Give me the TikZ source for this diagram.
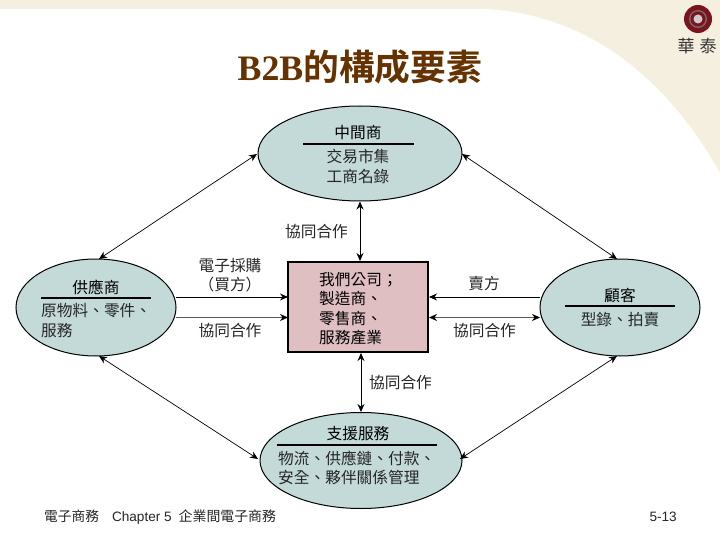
\documentclass[tikz,border=0pt]{standalone}
\usepackage{fontspec}
\setmainfont{Liberation Sans}
\newfontfamily\cjk{Noto Sans CJK TC}
\newfontfamily\titlelat{Liberation Serif}[BoldFont={Liberation Serif Bold}]
\newfontfamily\cjkb{Noto Sans CJK TC Bold}
\usetikzlibrary{arrows.meta,shapes.geometric}
\definecolor{cream}{HTML}{F5EFDF}
\definecolor{teal}{HTML}{C4DAD9}
\definecolor{rosy}{HTML}{E0BFC3}
\definecolor{brownish}{HTML}{663300}
\definecolor{maroon}{HTML}{7A1520}
\tikzset{
 lbl/.style={font=\cjk\fontsize{15.7}{19.5}\selectfont,text=black!85,inner sep=0pt,align=left},
 head/.style={font=\cjk\fontsize{15.7}{19}\selectfont,text=black,inner sep=0pt},
 rule/.style={line width=1.3pt,black},
 conn/.style={line width=0.7pt,-{Stealth[length=8pt,width=7pt]}},
 biconn/.style={line width=0.7pt,{Stealth[length=8pt,width=7pt]}-{Stealth[length=8pt,width=7pt]}},
 greyconn/.style={line width=0.6pt,draw=black!65},
 oval/.style={ellipse,draw,line width=1pt,fill=teal,inner sep=0pt},
 ring/.style={circle,inner sep=0pt},
}
\begin{document}
\begin{tikzpicture}[x=1pt,y=-1pt]
\useasboundingbox (0,0) rectangle (720,540);
\fill[cream] (0,0) rectangle (720,540);
\fill[white] (0,540) -- (0,9) -- (485,9) .. controls (585,14) and (665,75) .. (720,173) -- (720,540) -- cycle;
% logo
\node[ring,fill=maroon,minimum size=28pt] (logo) at (698,19) {};
\node[ring,fill=black!45!rosy,minimum size=18pt] (logoa) at (698,19) {};
\node[ring,fill=maroon,minimum size=15pt] (logob) at (698,19) {};
\node[ring,fill=black!20,minimum size=9pt] (logoc) at (698,19) {};
\node[font=\cjk\fontsize{17}{17}\selectfont,text=black!80,inner sep=0pt] (logot) at (697,46) {華\hspace{5pt}泰};
% title
\node[text=brownish,inner sep=0pt,anchor=center] (title) at (360,67) {\fontsize{35.8}{36}\selectfont{\titlelat\bfseries B2B}{\cjkb 的構成要素}};
% nodes
\node[oval,minimum width=204pt,minimum height=95pt] (top) at (360,153.5) {};
\node[oval,minimum width=160pt,minimum height=97pt] (left) at (96,307.5) {};
\node[oval,minimum width=160pt,minimum height=97pt] (right) at (620,307.5) {};
\node[oval,minimum width=202pt,minimum height=96pt] (bottom) at (361,460.5) {};
\node[rectangle,draw,line width=2pt,fill=rosy,minimum width=140pt,minimum height=90pt,inner sep=0pt] (box) at (358,307) {};
% top text
\node[head] (ta) at (358,133) {中間商};
\coordinate (tr1) at (303,144); \coordinate (tr2) at (414,144);
\draw[rule] (tr1) -- (tr2);
\node[lbl,align=center] (tb) at (358,166.5) {交易市集\\工商名錄};
% left text
\node[head] (la) at (96,287) {供應商};
\coordinate (lr1) at (41,298); \coordinate (lr2) at (151,298);
\draw[rule] (lr1) -- (lr2);
\node[lbl,anchor=west] (lb) at (41,320.5) {原物料、零件、\\服務};
% right text
\node[head] (ra) at (620,295) {顧客};
\coordinate (rr1) at (565,306); \coordinate (rr2) at (675,306);
\draw[rule] (rr1) -- (rr2);
\node[lbl] (rb) at (620,320) {型錄、拍賣};
% bottom text
\node[head] (ba) at (358,434) {支援服務};
\coordinate (br1) at (277,445); \coordinate (br2) at (437,445);
\draw[rule] (br1) -- (br2);
\node[lbl,anchor=west] (bb) at (278,468) {物流、供應鏈、付款、\\安全、夥伴關係管理};
% box text
\node[lbl,anchor=west,text=black] (bx) at (319,308.5) {我們公司；\\製造商、\\零售商、\\服務產業};
% edge labels
\node[lbl,align=center] (e1) at (230,275) {電子採購\\（買方）};
\node[lbl] (e2) at (230,331) {協同合作};
\node[lbl] (e3) at (316.5,232) {協同合作};
\node[lbl] (e4) at (400.5,383) {協同合作};
\node[lbl] (e5) at (484,284) {賣方};
\node[lbl] (e6) at (484.5,331) {協同合作};
% connectors
\draw[biconn,line width=0.9pt] (top.south) -- (top.south |- box.north);
\draw[biconn,line width=0.9pt] (box.south -| bottom.south) -- (bottom.north);
\coordinate (a1) at (176,297); \coordinate (a2) at (288,297);
\draw[conn,line width=0.8pt] (a1) -- (a2);
\coordinate (a3) at (176,317.5); \coordinate (a4) at (288,317.5);
\draw[conn,greyconn,-{Stealth[length=8pt,width=7pt,black]}] (a3) -- (a4);
\coordinate (a5) at (540,297); \coordinate (a6) at (429,297);
\draw[conn,line width=0.8pt] (a5) -- (a6);
\coordinate (a7) at (429,317.5); \coordinate (a8) at (540,317.5);
\draw[greyconn,{Stealth[length=8pt,width=7pt,black]}-{Stealth[length=8pt,width=7pt,black]}] (a7) -- (a8);
\coordinate (d1) at (257,154); \coordinate (d2) at (99,259);
\draw[biconn] (d1) -- (d2);
\coordinate (d3) at (462,154); \coordinate (d4) at (617,259);
\draw[biconn] (d3) -- (d4);
\coordinate (d5) at (99,356); \coordinate (d6) at (258,459);
\draw[biconn] (d5) -- (d6);
\coordinate (d7) at (617,356); \coordinate (d8) at (460,459);
\draw[biconn] (d7) -- (d8);
% footer
\node[font=\fontsize{13.6}{15}\selectfont,anchor=west,inner sep=0pt,text=black!85] (f1) at (44,517) {{\cjk\fontsize{13.7}{15}\selectfont 電子商務}\hspace{13pt}Chapter 5\hspace{7pt}{\cjk\fontsize{13.9}{15}\selectfont 企業間電子商務}};
\node[font=\fontsize{13.6}{15}\selectfont,anchor=east,inner sep=0pt,text=black!85] (f2) at (677,517) {5-13};
\end{tikzpicture}
\end{document}
